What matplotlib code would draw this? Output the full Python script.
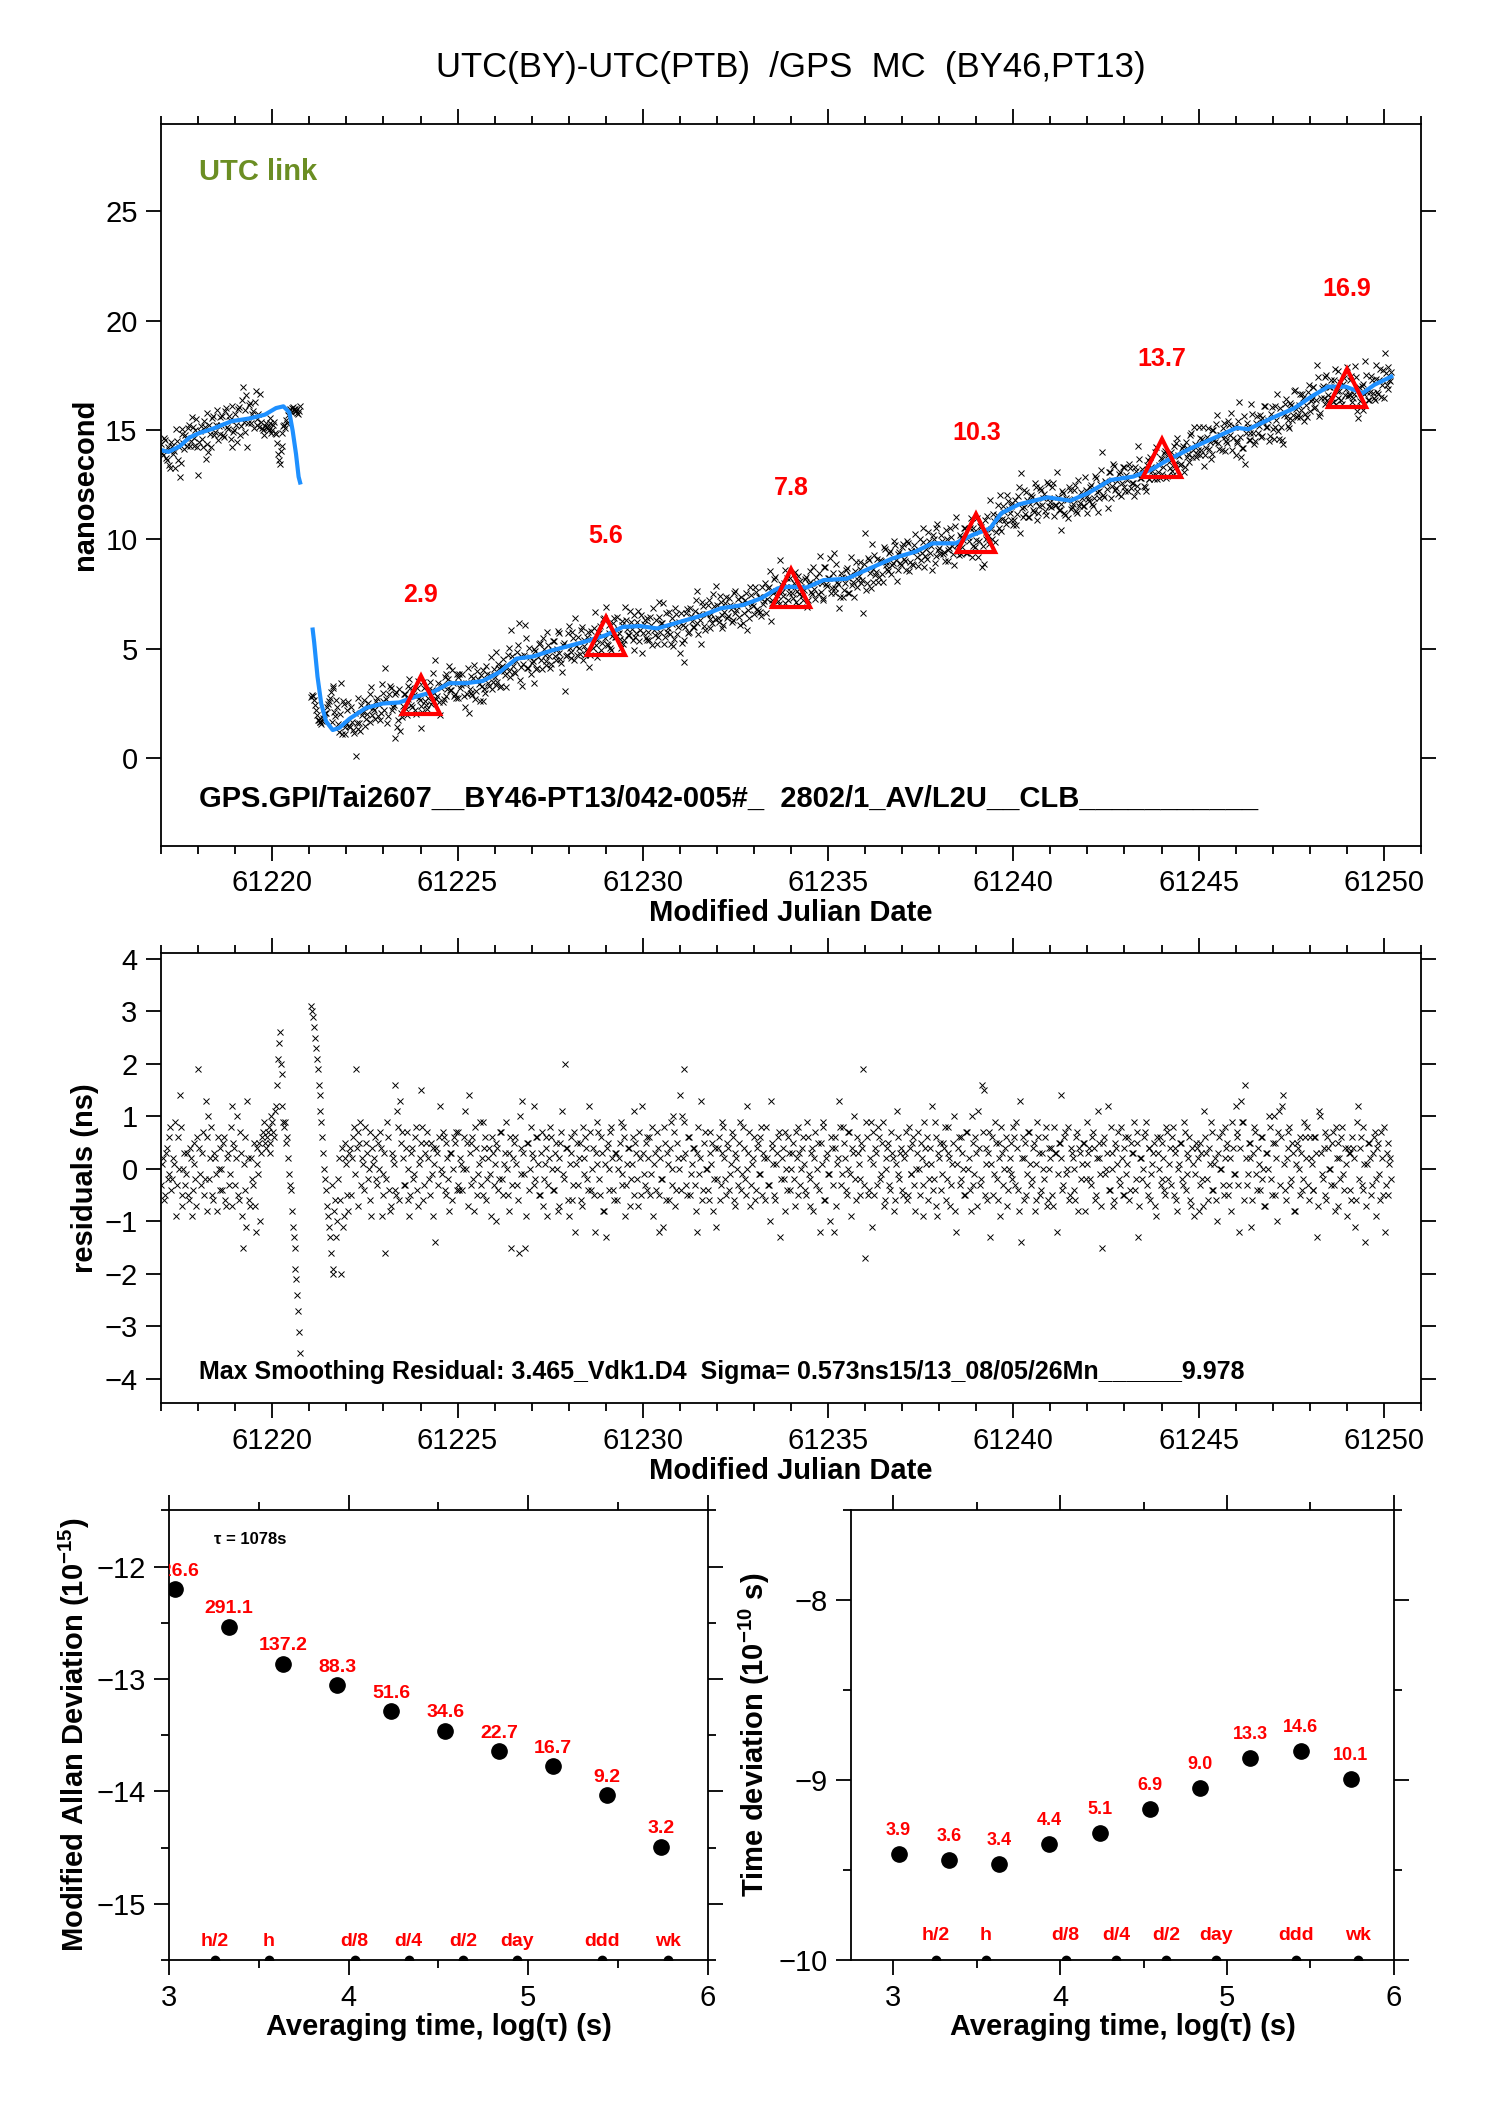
import numpy as np
import matplotlib
matplotlib.use('Agg')
import matplotlib.pyplot as plt
from matplotlib.ticker import MultipleLocator

plt.rcParams['font.family'] = ['Liberation Sans', 'DejaVu Sans']
plt.rcParams['mathtext.fontset'] = 'custom'
plt.rcParams['mathtext.rm'] = 'Liberation Sans'
plt.rcParams['mathtext.bf'] = 'Liberation Sans:bold'
plt.rcParams['mathtext.it'] = 'Liberation Sans:italic'

# ---- data ----
# smoothed curve (ns)
smooth_t1 = [61217.0, 61217.2, 61217.5, 61217.76, 61218.03, 61218.4, 61218.9, 61219.4,
             61219.8, 61220.1, 61220.3, 61220.46, 61220.55, 61220.64, 61220.71, 61220.75]
smooth_y1 = [14.08, 14.0, 14.25, 14.65, 14.86, 15.06, 15.4, 15.53,
             15.7, 16.0, 16.08, 15.8, 14.96, 13.9, 12.86, 12.6]
smooth_t2 = [61221.09, 61221.13, 61221.22, 61221.32, 61221.45, 61221.63, 61221.81, 61222.08,
             61222.53, 61222.98, 61223.43, 61223.88, 61224.33, 61224.78, 61225.23, 61225.68,
             61226.14, 61226.59, 61227.04, 61227.49, 61227.94, 61228.38, 61229.0, 61229.46,
             61229.93, 61230.39, 61231.0, 61231.63, 61232.1, 61232.7, 61233.18, 61233.64,
             61233.95, 61234.42, 61234.88, 61235.5, 61236.12, 61236.74, 61237.36, 61237.82,
             61238.44, 61238.9, 61239.37, 61239.68, 61240.15, 61240.92, 61241.54, 61242.0,
             61242.62, 61243.24, 61243.7, 61244.17, 61244.79, 61245.4, 61246.03, 61246.34,
             61246.96, 61247.58, 61248.04, 61248.5, 61248.97, 61249.43, 61249.74, 61250.2]
smooth_y2 = [5.88, 5.3, 3.73, 2.5, 1.69, 1.29, 1.39, 1.8,
             2.3, 2.5, 2.55, 2.82, 3.02, 3.43, 3.43, 3.53,
             3.94, 4.55, 4.65, 4.9, 5.1, 5.3, 5.62, 6.0,
             6.04, 5.93, 6.23, 6.54, 6.85, 7.0, 7.3, 7.76,
             7.84, 7.8, 8.14, 8.2, 8.67, 9.13, 9.44, 9.82,
             9.82, 10.2, 10.5, 11.2, 11.6, 11.92, 11.77, 12.1,
             12.71, 12.87, 13.17, 13.63, 14.16, 14.62, 15.1, 15.03,
             15.53, 15.99, 16.52, 16.98, 16.98, 16.68, 17.06, 17.44]

# residuals (smooth - measurement), in 0.1 ns, one every 0.05 d;
# the "b" strings are the samples half-way in between
seg1_start = 61217.0
seg2_start = 61221.05
step_days = 0.05
resid1_tenths = """
-3 2 -5 4 -1 8 -2 1 -9 6 14 -5 0 -3 3 -6 2 -4 5 -7
19 -1 3 -5 13 6 -2 8 -6 2 -8 0 4 -4 6 -7 3 -1 12 5
-3 10 -6 3 -15 6 -11 2 -7 -2 5 -12 1 5 3 7 5 6 8 3
9 6 12 21 26 18 9 9 6 -1 -4 -11 -15 -21 -27 -35
"""
resid1b_tenths = """
1 -6 3 -2 6 -4 2 9 -3 0 8 -7 3 -1 -5 4 -9 1 -2 6
4 -3 7 -2 -8 10 2 -5 3 -1 6 -4 0 5 -6 2 -3 8 -7 4
2 -5 7 -9 1 -4 13 -6 2 -3 -7 4 -1 -10 6 9 4 7 5 10
7 11 16 24 20 12 8 5 2 -3 -8 -13 -19 -24 -31
"""
resid2_tenths = """
31 29 25 21 16 11 6 0 -4 -9 -13 -3 -19 -6 -10 2 -20 -11 5 1
-8 4 2 8 19 7 5 -3 1 8 3 0 -6 4 2 -2 5 7 -9 -1
-16 9 -4 -7 2 16 -5 8 13 7 -3 4 -6 -9 3 -2 6 -4 1 15
8 -3 5 2 -5 -1 4 -14 3 6 0 7 -4 5 -2 3 -6 6 7 -3
-4 1 0 11 5 14 -3 6 -8 4 -1 9 2 -5 6 -2 4 -9 3 1
5 -4 7 -2 1 9 -5 3 -15 2 6 -3 -16 4 13 -1 -9 5 0 3
12 -2 6 -5 3 -7 1 6 -3 8 0 -4 5 -8 2 7 -1 20 4 -9
3 -6 7 1 -3 5 -7 2 6 -2 12 -4 4 -12 1 7 -5 3 -8 -13
5 0 8 -4 3 -6 2 9 -1 6 -3 4 -7 1 11 5 -2 7 -5 3
-3 6 2 -5 8 1 -4 4 -12 -2 -11 5 3 -6 9 0 7 -4 2 14
10 19 3 -5 6 -1 4 -3 -12 8 2 -6 5 0 -4 7 1 -8 4 -2
6 -3 9 2 -5 4 -1 7 -6 3 0 5 -4 8 -2 12 3 -7 1 6
-4 5 -1 8 3 -6 2 -3 13 4 -5 1 6 -13 2 -2 7 -4 3 0
5 -7 2 8 -3 4 1 -5 6 -2 3 -8 7 0 -4 5 9 -6 2 -1
-10 4 -12 6 1 13 -3 8 2 -5 7 -1 4 10 -6 3 -2 5 19 -17
6 -4 9 1 -5 3 8 -2 5 -7 0 4 -3 7 2 -6 11 -1 3 -4
2 7 -5 4 -1 6 -8 3 0 5 -3 9 1 -6 4 12 -2 6 -9 2
-4 5 8 -2 3 -7 1 10 -12 4 -3 6 0 -5 7 2 -8 5 -1 3
11 -3 16 15 4 -6 7 1 -5 9 -2 5 -9 3 0 6 -4 2 -1 8
-3 4 -8 -14 6 2 -5 7 1 -2 5 -6 9 3 -4 0 6 -7 4 2
-5 8 3 -1 5 14 -3 7 0 -6 4 2 -4 6 -8 3 1 5 -2 9
4 -3 7 -6 2 5 -1 -15 6 0 12 -4 3 -7 5 1 -2 8 -5 4
-1 6 -4 3 9 -2 5 -7 2 0 7 -3 4 -6 1 5 -9 3 6 -2
2 -5 7 1 -3 8 4 -6 0 5 -2 9 -4 3 6 -7 1 -1 4 -8
5 -2 11 3 -6 1 7 -4 2 -10 6 0 -3 8 4 -5 2 9 -1 12
7 -12 13 9 16 -3 5 2 -6 8 -1 4 -4 6 0 -7 3 10 -2 5
-5 2 7 -3 12 1 -6 4 8 -2 3 -8 5 0 6 -4 9 2 -3 6
1 -4 6 -13 11 3 -2 7 -6 4 0 5 -3 8 -7 2 6 -1 4 -9
3 -4 6 2 -6 12 4 -3 8 -14 1 5 -5 3 7 -2 5 -6 2 8
-3 5 1 -2
"""
resid2b_tenths = """
30 27 23 19 14 9 3 -2 -7 -11 -16 -20 -8 -13 -2 -6 4 -9 2 -5
3 -5 6 -1 4 -7 9 2 -4 5 -2 7 -9 1 6 -3 0 4 -5 3
-2 6 -8 3 1 -4 11 -6 5 2 -3 7 0 -5 4 -1 8 -7 2 5
-6 3 7 -2 5 -9 1 4 -3 12 -1 6 -5 2 -8 3 0 5 -4 7
2 -4 6 0 -7 3 5 -2 8 -5 1 -3 9 4 -6 2 -1 6 -3 -10
4 -2 7 -5 3 0 -8 6 -3 5 1 -6 10 -1 3 -15 5 -4 8 2
-3 6 1 -5 7 -2 4 -9 2 6 -4 3 0 -7 5 11 -2 4 -6 1
6 -3 -12 5 2 -6 8 -1 4 -4 7 0 -5 3 9 -2 6 -8 1 4
-4 7 2 -6 3 0 5 -3 8 -9 1 4 -2 6 -5 3 -7 2 12 -1
5 -4 6 -1 -9 3 7 -5 2 -2 8 -6 1 4 -3 10 -7 5 0 -4
2 9 -3 6 -5 1 4 -8 3 -1 13 -4 7 0 -6 3 5 -2 -11 4
-6 3 8 -2 5 -4 1 6 -7 2 -3 9 -1 4 -5 0 7 -3 2 -6
4 -1 6 -5 2 8 -3 -10 5 1 -6 3 7 -2 4 -8 0 6 -4 3
-2 7 -5 3 0 6 -4 9 -1 -7 4 2 -3 5 -12 1 8 -6 3 -1
6 -3 4 -7 2 8 -1 5 -4 0 7 -9 3 -2 6 1 -5 4 -3 9
-5 2 -11 7 4 -3 6 -1 9 -6 2 5 -4 3 -8 1 6 -2 4 -5
3 -6 8 -1 5 -3 0 7 -5 2 -9 4 6 -2 1 -4 9 -7 3 5
-1 4 -6 8 2 -3 5 -8 1 6 -2 3 -5 7 0 -4 10 -3 6 -7
4 -2 7 -5 1 3 -13 6 -1 5 -6 2 8 -3 4 -7 0 5 -2 6
9 -4 13 2 -6 5 -1 7 -3 4 -8 1 6 -5 3 -2 8 -6 0 4
-7 3 -12 5 2 -4 6 -1 8 -5 3 0 -6 7 4 -2 5 -8 1 3
-2 6 4 -5 11 2 -7 5 -1 3 -4 8 0 -6 4 7 -3 2 -5 6
1 -6 5 3 -4 7 -13 2 -2 6 9 -5 4 -1 3 -7 6 0 -3 5
-4 8 -2 4 6 -5 3 -8 1 5 -3 7 -1 2 -6 4 -9 5 2 -3
3 -7 6 -2 4 9 -4 1 -6 3 0 7 -5 2 5 -3 -8 4 -1 6
-3 4 9 -6 2 -1 5 -11 3 7 -4 1 6 -2 -7 3 0 8 -5 10
5 -10 11 6 14 -4 2 7 -3 5 -8 1 4 -5 3 -2 6 8 -6 2
-4 6 3 -7 10 -1 4 -5 6 0 -3 7 -8 2 5 -2 8 -4 1 4
3 -6 4 -11 9 -2 6 -4 1 -7 5 2 -3 6 -9 4 -1 7 -5 -12
3 -5 2
"""

# monthly-type markers on the curve
mark_mjd = [61224, 61229, 61234, 61239, 61244, 61249]
mark_val = [2.9, 5.6, 7.8, 10.3, 13.7, 16.9]

title = 'UTC(BY)-UTC(PTB)  /GPS  MC  (BY46,PT13)'
info_top = 'GPS.GPI/Tai2607__BY46-PT13/042-005#_  2802/1_AV/L2U__CLB___________'
info_res = 'Max Smoothing Residual: 3.465_Vdk1.D4  Sigma= 0.573ns15/13_08/05/26Mn______9.978'

# stability analysis
tau_s = [1078, 2156, 4312, 8624, 17248, 34496, 68992, 137984, 275968, 551936]
mdev_e15 = [626.6, 291.1, 137.2, 88.3, 51.6, 34.6, 22.7, 16.7, 9.2, 3.2]
tdev_e10 = [3.9, 3.6, 3.4, 4.4, 5.1, 6.9, 9.0, 13.3, 14.6, 10.1]
ref_names = ['h/2', 'h', 'd/8', 'd/4', 'd/2', 'day', 'ddd', 'wk']
ref_s = [1800, 3600, 10800, 21600, 43200, 86400, 259200, 604800]

# ---- build series ----
def parse(s):
    return np.array(s.split(), dtype=float) / 10


res1 = np.concatenate([parse(resid1_tenths), parse(resid1b_tenths)])
res2 = np.concatenate([parse(resid2_tenths), parse(resid2b_tenths)])
n1a = len(resid1_tenths.split())
n1b = len(resid1b_tenths.split())
n2a = len(resid2_tenths.split())
n2b = len(resid2b_tenths.split())
t1 = np.concatenate([seg1_start + step_days * np.arange(n1a),
                     seg1_start + step_days * (np.arange(n1b) + 0.5)])
t2 = np.concatenate([seg2_start + step_days * np.arange(n2a),
                     seg2_start + step_days * (np.arange(n2b) + 0.5)])
meas1 = np.interp(t1, smooth_t1, smooth_y1) - res1
meas2 = np.interp(t2, smooth_t2, smooth_y2) - res2

RED = '#ff0000'
BLUE = '#1e90ff'
FS = 21


def style(ax):
    for s in ax.spines.values():
        s.set_linewidth(1.3)
    ax.tick_params(which='both', direction='out', top=True, right=True,
                   labelsize=FS, width=1.3, pad=6)
    ax.tick_params(which='major', length=11)
    ax.tick_params(which='minor', length=5.5)


fig = plt.figure(figsize=(14.88, 21.05), dpi=100)

# ---- top: time series ----
ax1 = fig.add_axes([0.1083, 0.5982, 0.8466, 0.3431])
ax1.plot(t1, meas1, 'x', color='black', ms=5, mew=0.7)
ax1.plot(t2, meas2, 'x', color='black', ms=5, mew=0.7)
ax1.plot(smooth_t1, smooth_y1, color=BLUE, lw=3)
ax1.plot(smooth_t2, smooth_y2, color=BLUE, lw=3)
ax1.plot(mark_mjd, mark_val, '^', ms=27, mfc='none', mec=RED, mew=3, zorder=5)
for t, v in zip(mark_mjd, mark_val):
    ax1.text(t, v + 4.55, f'{v:.1f}', color=RED, fontsize=18, fontweight='bold',
             ha='center', va='center')
ax1.set_xlim(61217, 61251)
ax1.set_ylim(-4, 29)
ax1.xaxis.set_major_locator(MultipleLocator(5))
ax1.xaxis.set_minor_locator(MultipleLocator(1))
ax1.yaxis.set_major_locator(MultipleLocator(5))
style(ax1)
ax1.ticklabel_format(useOffset=False)
ax1.set_xlabel('Modified Julian Date', fontsize=FS, fontweight='bold')
ax1.xaxis.set_label_coords(0.5, -0.074)
ax1.set_ylabel('nanosecond', fontsize=FS, fontweight='bold')
ax1.yaxis.set_label_coords(-0.049, 0.5)
ax1.text(0.03, 0.933, 'UTC link', transform=ax1.transAxes, color='#6b8e23',
         fontsize=FS, fontweight='bold', va='center')
ax1.text(0.03, 0.065, info_top, transform=ax1.transAxes, fontsize=FS,
         fontweight='bold', va='center')
fig.text(0.5316, 0.968, title, fontsize=25, ha='center', va='center')

# ---- middle: residuals ----
ax2 = fig.add_axes([0.1083, 0.3335, 0.8466, 0.2137])
ax2.plot(t1, res1, 'x', color='black', ms=5, mew=0.7)
ax2.plot(t2, res2, 'x', color='black', ms=5, mew=0.7)
ax2.set_xlim(61217, 61251)
ax2.set_ylim(-4.46, 4.11)
ax2.xaxis.set_major_locator(MultipleLocator(5))
ax2.xaxis.set_minor_locator(MultipleLocator(1))
ax2.yaxis.set_major_locator(MultipleLocator(1))
style(ax2)
ax2.ticklabel_format(useOffset=False)
ax2.set_xlabel('Modified Julian Date', fontsize=FS, fontweight='bold')
ax2.xaxis.set_label_coords(0.5, -0.119)
ax2.set_ylabel('residuals (ns)', fontsize=FS, fontweight='bold')
ax2.yaxis.set_label_coords(-0.049, 0.5)
ax2.text(0.03, 0.069, info_res, transform=ax2.transAxes, fontsize=18,
         fontweight='bold', va='center')

# ---- bottom left: modified Allan deviation ----
log_tau = np.log10(tau_s)
log_ref = np.log10(ref_s)

ax3 = fig.add_axes([0.1137, 0.0689, 0.3619, 0.2136])
mdev_y = np.log10(np.array(mdev_e15) * 1e-15)
ax3.plot(log_tau, mdev_y, 'o', color='black', ms=11)
for x, y, v in zip(log_tau, mdev_y, mdev_e15):
    ax3.text(x, y + 0.16, f'{v:.1f}', color=RED, fontsize=14, fontweight='bold',
             ha='center', va='center', clip_on=True)
ax3.plot(log_ref, np.zeros(len(ref_s)), 'o', color='black', ms=6,
         transform=ax3.get_xaxis_transform())
for x, name in zip(log_ref, ref_names):
    ax3.text(x, 0.022, name, color=RED, fontsize=14, fontweight='bold',
             ha='center', va='bottom', transform=ax3.get_xaxis_transform())
ax3.text(0.083, 0.936, f'τ = {tau_s[0]}s', transform=ax3.transAxes,
         fontsize=12, fontweight='bold', va='center')
ax3.set_xlim(3, 6)
ax3.set_ylim(-15.5, -11.5)
ax3.xaxis.set_major_locator(MultipleLocator(1))
ax3.xaxis.set_minor_locator(MultipleLocator(0.5))
ax3.yaxis.set_major_locator(MultipleLocator(1))
ax3.yaxis.set_minor_locator(MultipleLocator(0.5))
style(ax3)
ax3.set_xlabel('Averaging time, log(τ) (s)', fontsize=FS, fontweight='bold')
ax3.xaxis.set_label_coords(0.5, -0.119)
ax3.set_ylabel(r'Modified Allan Deviation (10$^{\mathbf{-15}}$)', fontsize=FS,
               fontweight='bold')
ax3.yaxis.set_label_coords(-0.143, 0.5)

# ---- bottom right: time deviation ----
ax4 = fig.add_axes([0.5722, 0.0689, 0.3646, 0.2136])
tdev_y = np.log10(np.array(tdev_e10) * 1e-10)
ax4.plot(log_tau, tdev_y, 'o', color='black', ms=11)
for x, y, v in zip(log_tau, tdev_y, tdev_e10):
    ax4.text(x, y + 0.13, f'{v:.1f}', color=RED, fontsize=13, fontweight='bold',
             ha='center', va='center')
ax4.plot(log_ref, np.zeros(len(ref_s)), 'o', color='black', ms=6,
         transform=ax4.get_xaxis_transform())
for x, name in zip(log_ref, ref_names):
    ax4.text(x, 0.035, name, color=RED, fontsize=14, fontweight='bold',
             ha='center', va='bottom', transform=ax4.get_xaxis_transform())
ax4.set_xlim(2.75, 6)
ax4.set_ylim(-10, -7.5)
ax4.xaxis.set_major_locator(MultipleLocator(1))
ax4.xaxis.set_minor_locator(MultipleLocator(0.5))
ax4.yaxis.set_major_locator(MultipleLocator(1))
ax4.yaxis.set_minor_locator(MultipleLocator(0.5))
style(ax4)
ax4.set_xlabel('Averaging time, log(τ) (s)', fontsize=FS, fontweight='bold')
ax4.xaxis.set_label_coords(0.5, -0.119)
ax4.set_ylabel(r'Time deviation (10$^{\mathbf{-10}}$ s)', fontsize=FS,
               fontweight='bold')
ax4.yaxis.set_label_coords(-0.146, 0.5)

fig.savefig('out.png', dpi=100)
